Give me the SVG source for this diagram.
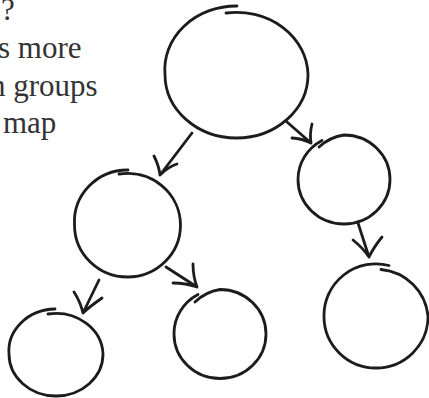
<svg xmlns="http://www.w3.org/2000/svg" width="429" height="398" viewBox="0 0 429 398">
<style>
.t{font-family:"Liberation Serif","Times New Roman",serif;font-size:31px;fill:#333}
.c{fill:none;stroke:#1c1c1c;stroke-width:2.8;stroke-linecap:round;stroke-linejoin:round}
</style>
<rect width="429" height="398" fill="#fff"/>
<g id="text">
<text class="t" x="1" y="20">?</text>
<text class="t" x="-2" y="58">s more</text>
<text class="t" x="-10" y="96">n groups</text>
<text class="t" x="3" y="133">map</text>
</g>
<g id="node-top"><path class="c" d="M226,13 A71.5,63.5 0 0 1 308,74.5 A71.5,63.5 0 0 1 236.5,138 A71.5,63.5 0 0 1 165,74.5 A71.5,63.5 0 0 1 237,6"/></g>
<g id="node-left"><path class="c" d="M119,174 A53,52 0 0 1 180.5,225 A53,52 0 0 1 127.5,277 A53,52 0 0 1 74.5,225 A53,52 0 0 1 128,170"/></g>
<g id="node-right"><path class="c" d="M319,147 A46,44.5 0 0 1 344,135 A46,44.5 0 0 1 390,179.5 A46,44.5 0 0 1 344,224 A46,44.5 0 0 1 298,179.5 A46,44.5 0 0 1 322,140.5"/></g>
<g id="node-bottom-left"><path class="c" d="M48,314 A47,42 0 0 1 103,354 A47,42 0 0 1 56,396 A47,42 0 0 1 9,354 A47,42 0 0 1 55,309"/></g>
<g id="node-bottom-middle"><path class="c" d="M195,302 A46,44.5 0 0 1 220,289.5 A46,44.5 0 0 1 266,334 A46,44.5 0 0 1 220,378.5 A46,44.5 0 0 1 174,334 A46,44.5 0 0 1 198,294.5"/></g>
<g id="node-bottom-right"><path class="c" d="M381,269.5 A52,51.5 0 0 1 428,316.5 A52,51.5 0 0 1 376,368 A52,51.5 0 0 1 324,316.5 A52,51.5 0 0 1 389,265.5"/></g>
<g id="connectors">
<path class="c" d="M192,133 L160,175 M154,156 Q159,166 160,175 M177,164 Q168,167 160,175"/>
<path class="c" d="M287,122 L311,143 M292,138 Q302,138.5 311,143 M312,124 Q309.5,134 311,143"/>
<path class="c" d="M358,223 L369,257 M353,240 Q363,248 369,257 M382,237 Q373.5,247.5 369,257"/>
<path class="c" d="M99,280 L83,313 M74,292 Q80.5,302 83,313 M102,298 Q90.5,306 83,313"/>
<path class="c" d="M166,267 L197,287 M193,264 Q193,276.5 197,287 M173,283 Q185.5,283 197,287"/>
</g>
</svg>
